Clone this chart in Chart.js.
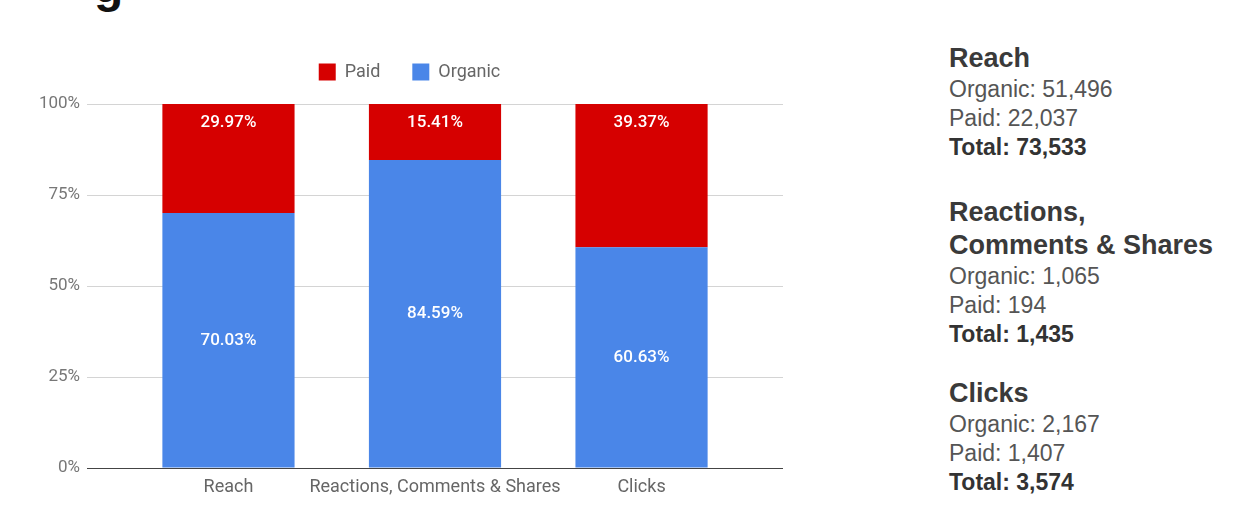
<!DOCTYPE html>
<html><head><meta charset="utf-8">
<script src="https://cdn.jsdelivr.net/npm/chart.js@4.4.0/dist/chart.umd.min.js"></script>
<style>
html,body{margin:0;padding:0;background:#fff;width:1241px;height:529px;overflow:hidden;}
#wrap{position:absolute;left:0;top:0;width:820px;height:529px;}
#g{position:absolute;left:94px;top:-38px;font:bold 48px/48px "Liberation Sans",Arial,sans-serif;color:#111;}
#panel{position:absolute;left:949px;top:0;font-family:"Liberation Sans",Arial,sans-serif;}
.blk{position:absolute;left:0;white-space:nowrap;}
.h{font-weight:bold;font-size:27px;line-height:33px;color:#3a3a3a;}
.b{font-size:23px;line-height:29px;color:#555;}
.t{font-weight:bold;color:#333;}
</style></head>
<body>
<div id="g">g</div>
<div id="wrap"><canvas id="c" width="820" height="529"></canvas></div>
<div id="panel"></div>
<script>
const categories = ["Reach", "Reactions, Comments & Shares", "Clicks"];
const organicPct = [70.03, 84.59, 60.63];
const paidPct = [29.97, 15.41, 39.37];
const yTicks = [0, 25, 50, 75, 100];
const panelTitles = [["Reach"], ["Reactions,", "Comments & Shares"], ["Clicks"]];
const organicCounts = [51496, 1065, 2167];
const paidCounts = [22037, 194, 1407];
const totalCounts = [73533, 1435, 3574];

// side panel
const blockTops = [41.5, 195.5, 376.5];
const panel = document.getElementById('panel');
const fmt = n => n.toLocaleString('en-US');
panelTitles.forEach((t, i) => {
  const d = document.createElement('div');
  d.className = 'blk';
  d.style.top = blockTops[i] + 'px';
  let html = t.map(s => '<div class="h">' + s.replace('&', '&amp;') + '</div>').join('');
  html += '<div class="b">Organic: ' + fmt(organicCounts[i]) + '</div>';
  html += '<div class="b">Paid: ' + fmt(paidCounts[i]) + '</div>';
  html += '<div class="b t">Total: ' + fmt(totalCounts[i]) + '</div>';
  d.innerHTML = html;
  panel.appendChild(d);
});

const RED = '#d60000', BLUE = '#4a86e8';
const FONT = 'Roboto';

const labelPlugin = {
  id: 'barLabels',
  afterDatasetsDraw(chart) {
    const ctx = chart.ctx;
    ctx.save();
    ctx.font = '500 17px ' + FONT;
    ctx.fillStyle = '#ffffff';
    ctx.textAlign = 'center';
    ctx.textBaseline = 'middle';
    chart.data.datasets.forEach((ds, di) => {
      const meta = chart.getDatasetMeta(di);
      meta.data.forEach((bar, i) => {
        const v = ds.data[i].y;
        const txt = v.toFixed(2) + '%';
        const y = di === 1 ? bar.y + 19 : (bar.y + bar.base) / 2;
        ctx.fillText(txt, bar.x, y);
      });
    });
    ctx.restore();
  }
};

const legendFit = {
  id: 'legendFit',
  beforeInit(chart) {
    const l = chart.legend;
    const f = l.fit;
    l.fit = function () { f.call(this); this.height = 73; };
  }
};

new Chart(document.getElementById('c'), {
  type: 'bar',
  data: {
    datasets: [
      { label: 'Organic', data: organicPct.map((v, i) => ({ x: i, y: v })), backgroundColor: BLUE },
      { label: 'Paid', data: paidPct.map((v, i) => ({ x: i, y: v })), backgroundColor: RED }
    ]
  },
  options: {
    responsive: false,
    animation: false,
    categoryPercentage: 1,
    barPercentage: 0.64,
    layout: { padding: { left: 36, right: 37, top: 31, bottom: 0 } },
    plugins: {
      tooltip: { enabled: false },
      legend: {
        reverse: true,
        labels: { boxWidth: 17, boxHeight: 17, padding: 32, color: '#666', font: { family: FONT, size: 18 } }
      }
    },
    scales: {
      x: {
        type: 'linear', stacked: true, min: -0.685, max: 2.685, offset: false,
        afterBuildTicks: s => { s.ticks = categories.map((_, i) => ({ value: i })); },
        afterFit: s => { s.height = 61; },
        grid: { display: false, drawTicks: false, offset: false },
        border: { display: false },
        ticks: { padding: 9, color: '#666', font: { family: FONT, size: 18 }, maxRotation: 0, autoSkip: false,
          callback: v => categories[v] }
      },
      y: {
        stacked: true, min: 0, max: 100,
        afterBuildTicks: s => { s.ticks = yTicks.map(v => ({ value: v })); },
        afterFit: s => { s.width = 51; },
        grid: { drawTicks: false, color: c => (c.tick && c.tick.value === 0) ? '#444' : '#d4d4d4' },
        border: { display: false },
        ticks: { padding: 7, color: '#777', font: { family: FONT, size: 17 }, callback: v => v + '%' }
      }
    }
  },
  plugins: [labelPlugin, legendFit]
});
</script>
</body></html>
